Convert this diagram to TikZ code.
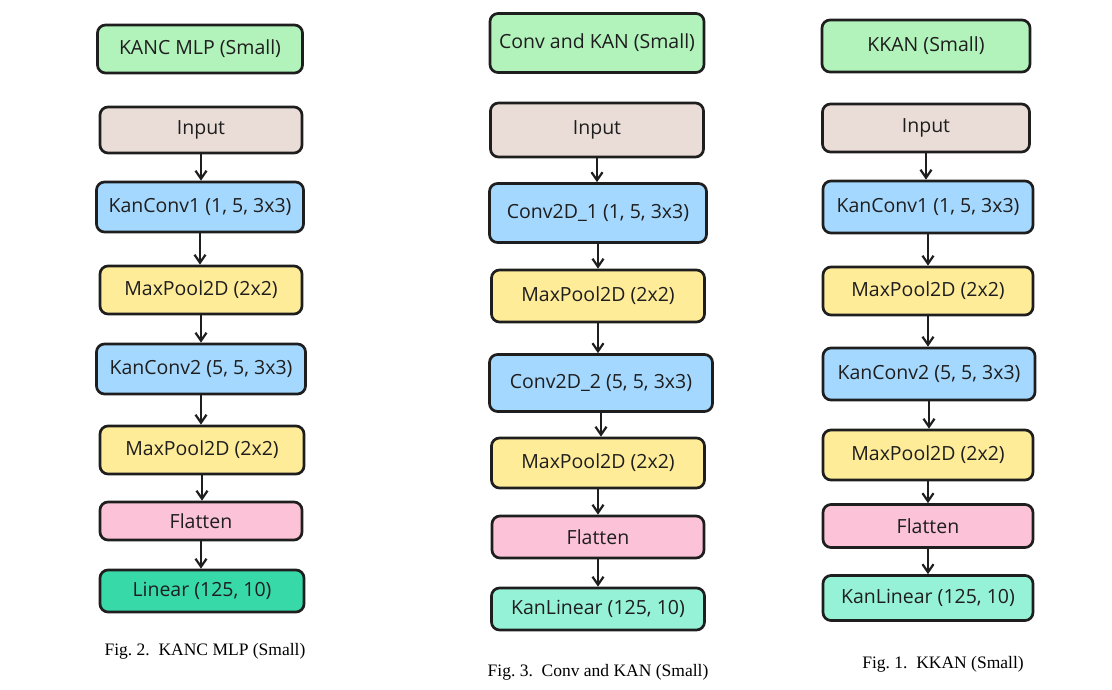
\documentclass[tikz,border=0pt]{standalone}
\usepackage{fontspec}
\setmainfont{Liberation Serif}
\newfontfamily\sketchfont{Open Sans}
\usetikzlibrary{arrows.meta}

\definecolor{titlegreen}{HTML}{B2F2BB}
\definecolor{inputbeige}{HTML}{EADDD7}
\definecolor{convblue}{HTML}{A5D8FF}
\definecolor{poolyellow}{HTML}{FFEC99}
\definecolor{flatpink}{HTML}{FCC2D7}
\definecolor{lindark}{HTML}{38D9A9}
\definecolor{linlight}{HTML}{96F2D7}
\definecolor{inkline}{HTML}{1E1E1E}

\tikzset{
  layer/.style={draw=inkline, line width=2.7pt, rounded corners=8pt,
    minimum height=#1, inner sep=2pt, align=center,
    font=\sketchfont\fontsize{19.5}{22}\selectfont, text=inkline},
  layer/.default=48pt,
  flow/.style={draw=inkline, line width=2.6pt,
    -{Straight Barb[length=8pt,width=11pt,line width=2.2pt]}},
  caption/.style={font=\fontsize{17.5}{20}\selectfont}
}

\begin{document}
\begin{tikzpicture}[x=1pt,y=-1pt]
  \useasboundingbox (0,0) rectangle (1112,689);

  % column 1: KANC MLP
  \node[layer, fill=titlegreen, minimum width=205pt] (atitle) at (200,49) {KANC MLP (Small)};
  \node[layer=46pt, fill=inputbeige, minimum width=202pt] (ain) at (201,130) {Input};
  \node[layer=50pt, fill=convblue, minimum width=207pt] (ac1) at (200,207) {KanConv1 (1, 5, 3x3)};
  \node[layer, fill=poolyellow, minimum width=202pt] (ap1) at (201,290) {MaxPool2D (2x2)};
  \node[layer=50pt, fill=convblue, minimum width=209pt] (ac2) at (201,369) {KanConv2 (5, 5, 3x3)};
  \node[layer, fill=poolyellow, minimum width=204pt] (ap2) at (202,450) {MaxPool2D (2x2)};
  \node[layer=38pt, fill=flatpink, minimum width=202pt] (afl) at (201,521) {Flatten};
  \node[layer=42pt, fill=lindark, minimum width=204pt] (alin) at (202,591) {Linear (125, 10)};
  \node[caption] (acap) at (205,651) {Fig.~2.\ \ KANC MLP (Small)};

  % column 2: Conv and KAN
  \node[layer=59pt, fill=titlegreen, minimum width=214pt] (btitle) at (597,43) {Conv and KAN (Small)};
  \node[layer=54pt, fill=inputbeige, minimum width=213pt] (bin) at (597,130) {Input};
  \node[layer=59pt, fill=convblue, minimum width=217pt] (bc1) at (598,213) {Conv2D\_1 (1, 5, 3x3)};
  \node[layer=52pt, fill=poolyellow, minimum width=213pt] (bp1) at (598,296) {MaxPool2D (2x2)};
  \node[layer=57pt, fill=convblue, minimum width=223pt] (bc2) at (601,383) {Conv2D\_2 (5, 5, 3x3)};
  \node[layer=50pt, fill=poolyellow, minimum width=213pt] (bp2) at (598,463) {MaxPool2D (2x2)};
  \node[layer=42pt, fill=flatpink, minimum width=212pt] (bfl) at (598,537) {Flatten};
  \node[layer=42pt, fill=linlight, minimum width=213pt] (blin) at (598,609) {KanLinear (125, 10)};
  \node[caption] (bcap) at (598,672) {Fig.~3.\ \ Conv and KAN (Small)};

  % column 3: KKAN
  \node[layer=52pt, fill=titlegreen, minimum width=208pt] (ctitle) at (926,46) {KKAN (Small)};
  \node[layer, fill=inputbeige, minimum width=207pt] (cin) at (926,128) {Input};
  \node[layer=52pt, fill=convblue, minimum width=210pt] (cc1) at (928,207) {KanConv1 (1, 5, 3x3)};
  \node[layer, fill=poolyellow, minimum width=210pt] (cp1) at (928,291) {MaxPool2D (2x2)};
  \node[layer=52pt, fill=convblue, minimum width=212pt] (cc2) at (929,374) {KanConv2 (5, 5, 3x3)};
  \node[layer=50pt, fill=poolyellow, minimum width=210pt] (cp2) at (928,455) {MaxPool2D (2x2)};
  \node[layer=43pt, fill=flatpink, minimum width=210pt] (cfl) at (928,526) {Flatten};
  \node[layer=45pt, fill=linlight, minimum width=210pt] (clin) at (928,598) {KanLinear (125, 10)};
  \node[caption] (ccap) at (943,664) {Fig.~1.\ \ KKAN (Small)};

  % arrows
  \foreach \col in {a,b,c} {
    \draw[flow] (\col in.south) -- (\col in.south |- \col c1.north);
    \draw[flow] (\col c1.south) -- (\col c1.south |- \col p1.north);
    \draw[flow] (\col p1.south) -- (\col p1.south |- \col c2.north);
    \draw[flow] (\col c2.south) -- (\col c2.south |- \col p2.north);
    \draw[flow] (\col p2.south) -- (\col p2.south |- \col fl.north);
    \draw[flow] (\col fl.south) -- (\col fl.south |- \col lin.north);
  }
\end{tikzpicture}
\end{document}
